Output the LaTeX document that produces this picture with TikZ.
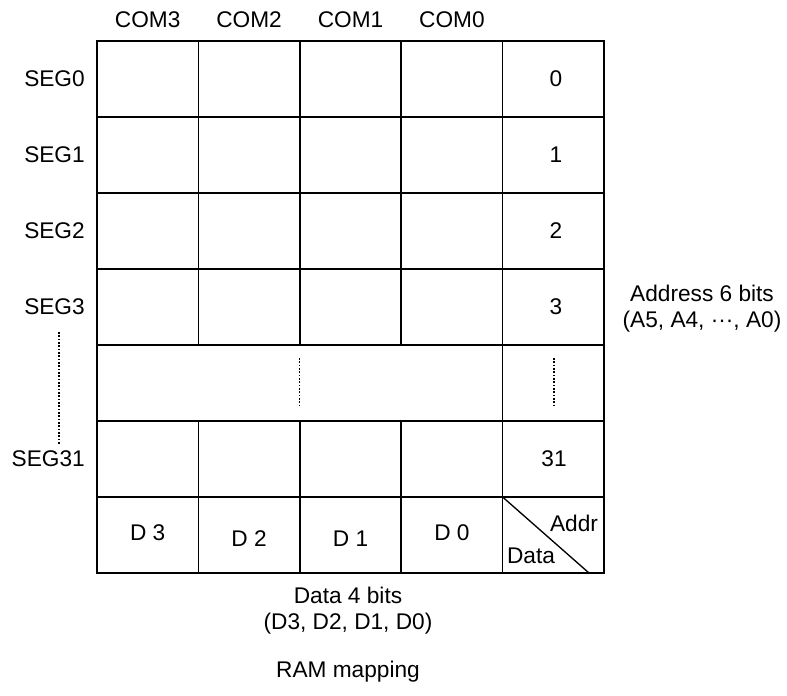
\documentclass[tikz,border=0pt]{standalone}
\usepackage{fontspec}
\setmainfont{Liberation Sans}
\usetikzlibrary{positioning}

\begin{document}
\begin{tikzpicture}[x=0.75pt,y=-0.75pt,
  lbl/.style={font=\fontsize{17}{19.5}\selectfont, inner sep=0pt},
  gridline/.style={line width=1.3pt},
  dotline/.style={line width=1pt, dash pattern=on 1.3pt off 1.2pt}]
\useasboundingbox (0,0) rectangle (787,695);

% table frame and rows
\draw[gridline] (97,41) rectangle (604,573);
\foreach \y in {117,193,269,345,421,497}
  \draw[gridline] (97,\y) -- (604,\y);
\foreach \x in {198.4,299.8,401.2} {
  \draw[gridline] (\x,41) -- (\x,345);
  \draw[gridline] (\x,421) -- (\x,573);
}
\draw[gridline] (502.6,41) -- (502.6,573);

% column heads
\node[lbl] (com3) at (147.7,19.5) {COM3};
\node[lbl] (com2) at (249.1,19.5) {COM2};
\node[lbl] (com1) at (350.5,19.5) {COM1};
\node[lbl] (com0) at (451.9,19.5) {COM0};

% row heads and addresses
\node[lbl,anchor=east] (seg0) at (85,79) {SEG0};
\node[lbl,anchor=east] (seg1) at (85,155) {SEG1};
\node[lbl,anchor=east] (seg2) at (85,231) {SEG2};
\node[lbl,anchor=east] (seg3) at (85,307) {SEG3};
\node[lbl,anchor=east] (seg31) at (85,459) {SEG31};
\node[lbl] (a0) at (556,79) {0};
\node[lbl] (a1) at (556,155) {1};
\node[lbl] (a2) at (556,231) {2};
\node[lbl] (a3) at (556,307) {3};
\node[lbl] (a31) at (554,459) {31};

% skipped rows
\draw[dotline] (59,332) -- (59,444);
\draw[dotline] (299.8,358) -- (299.8,407);
\draw[dotline] (554,358) -- (554,407);

% data bits
\node[lbl] (d3) at (147.7,533) {D 3};
\node[lbl] (d2) at (249.1,539) {D 2};
\node[lbl] (d1) at (350.5,539) {D 1};
\node[lbl] (d0) at (451.9,533) {D 0};
\draw[line width=1pt] (502.6,497) -- (589,573);
\node[lbl] (addr) at (574,523) {Addr};
\node[lbl] (data) at (531,556) {Data};

% captions
\node[lbl,align=center] (abits) at (702,309) {Address 6 bits\\(A5, A4, ···, A0)};
\node[lbl,align=center] (dbits) at (348,611) {Data 4 bits\\(D3, D2, D1, D0)};
\node[lbl] (title) at (348,672) {RAM mapping};
\end{tikzpicture}
\end{document}
